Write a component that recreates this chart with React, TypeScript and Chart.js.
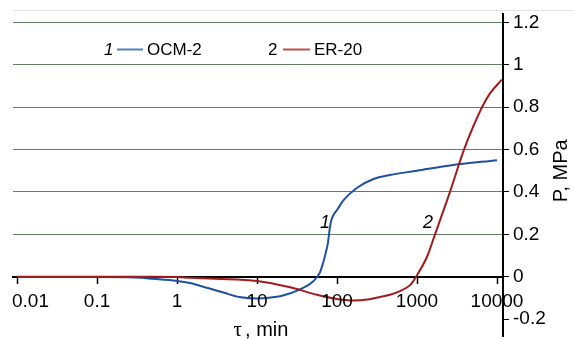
import React, { useEffect, useRef } from "react";
import { Chart, registerables } from "chart.js";

Chart.register(...registerables);

// ---- data ----
const xTickValues = [0.01, 0.1, 1, 10, 100, 1000, 10000];
const xTickLabels = ["0.01", "0.1", "1", "10", "100", "1000", "10000"];

const seriesNames = ["OCM-2", "ER-20"];
const seriesNumbers = ["1", "2"];

const ocmTime = [0.01, 0.1, 0.3, 0.5, 1, 1.45, 2.5, 3.8, 6, 10, 14, 21, 34, 50, 61, 67, 72, 77, 80, 84, 90, 100, 120, 178, 282, 460, 1000, 2600, 10000];
const ocmP = [-0.002, -0.002, -0.004, -0.01, -0.02, -0.03, -0.055, -0.075, -0.096, -0.103, -0.1, -0.089, -0.061, -0.023, 0.019, 0.065, 0.11, 0.16, 0.21, 0.26, 0.29, 0.315, 0.36, 0.42, 0.46, 0.48, 0.5, 0.525, 0.55];

const erTime = [0.01, 0.1, 0.5, 1, 1.45, 3, 10, 26, 56, 100, 158, 255, 345, 460, 613, 818, 972, 1334, 1679, 2585, 3868, 6494, 8175, 11500];
const erP = [0, 0, 0, -0.002, -0.005, -0.01, -0.02, -0.05, -0.085, -0.105, -0.112, -0.106, -0.096, -0.085, -0.068, -0.04, 0, 0.094, 0.2, 0.4, 0.6, 0.8, 0.865, 0.93];

const FONT = '"Liberation Sans", Arial, sans-serif';

const decorPlugin = {
  id: "decor",
  beforeDraw(chart: any) {
    const ctx = chart.ctx;
    ctx.save();
    ctx.strokeStyle = "#e4e4e4";
    ctx.lineWidth = 1;
    ctx.beginPath();
    ctx.moveTo(chart.chartArea.left, 10.5);
    ctx.lineTo(chart.width, 10.5);
    ctx.stroke();
    ctx.restore();
  },
  afterDraw(chart: any) {
    const ctx = chart.ctx;
    const xs = chart.scales.x;
    const ys = chart.scales.y;
    const area = chart.chartArea;
    ctx.save();
    // x tick labels
    ctx.font = `19px ${FONT}`;
    ctx.fillStyle = "#000";
    ctx.textAlign = "center";
    ctx.textBaseline = "alphabetic";
    const base = ys.getPixelForValue(0) + 30;
    xTickValues.forEach((v, i) => {
      const label = xTickLabels[i];
      const w = ctx.measureText(label).width;
      let px = xs.getPixelForValue(v);
      px = Math.max(px, area.left - 1 + w / 2);
      ctx.fillText(label, px, base);
    });

    // x title: "τ, min"
    ctx.textAlign = "left";
    ctx.font = `21px "Liberation Serif", "Times New Roman", serif`;
    const tauW = ctx.measureText("τ").width;
    ctx.font = `20px ${FONT}`;
    const restW = ctx.measureText(", min").width;
    const total = tauW + 3 + restW;
    const cx = (area.left + area.right) / 2 + 3;
    const startX = cx - total / 2;
    ctx.font = `21px "Liberation Serif", "Times New Roman", serif`;
    ctx.fillText("τ", startX, 336);
    ctx.font = `20px ${FONT}`;
    ctx.fillText(", min", startX + tauW + 3, 336);

    // y title
    ctx.save();
    ctx.translate(567, (ys.getPixelForValue(0.6) + ys.getPixelForValue(0.4)) / 2);
    ctx.rotate(-Math.PI / 2);
    ctx.textAlign = "center";
    ctx.font = `20px ${FONT}`;
    ctx.fillText("P, MPa", 0, 0);
    ctx.restore();

    // legend
    const legY = 55;
    const drawLeg = (numX: number, num: string, italic: boolean, color: string, lx1: number, lx2: number, text: string) => {
      ctx.font = `${italic ? "italic " : ""}17px ${FONT}`;
      ctx.textAlign = "left";
      ctx.fillStyle = "#000";
      ctx.fillText(num, numX, legY);
      ctx.strokeStyle = color;
      ctx.lineWidth = 2;
      ctx.beginPath();
      ctx.moveTo(lx1, 49.5);
      ctx.lineTo(lx2, 49.5);
      ctx.stroke();
      ctx.font = `17px ${FONT}`;
      ctx.fillText(text, lx2 + 4, legY);
    };
    drawLeg(104, seriesNumbers[0], true, "#4f81bd", 117, 143, seriesNames[0]);
    drawLeg(268, seriesNumbers[1], false, "#c0504d", 283, 310, seriesNames[1]);

    // curve labels
    ctx.font = `italic 18px ${FONT}`;
    ctx.fillStyle = "#000";
    ctx.textAlign = "left";
    ctx.fillText(seriesNumbers[0], 320, 228);
    ctx.fillText(seriesNumbers[1], 423, 228);
    ctx.restore();
  },
};

export default function App() {
  const ref = useRef<HTMLCanvasElement | null>(null);
  useEffect(() => {
    document.body.style.margin = "0";
    if (!ref.current) return;
    const chart = new Chart(ref.current, {
      type: "line",
      data: {
        datasets: [
          {
            label: seriesNames[1],
            data: erTime.map((t, i) => ({ x: t, y: erP[i] })),
            borderColor: "#a01c1c",
            borderWidth: 2,
            pointRadius: 0,
            fill: false,
            cubicInterpolationMode: "monotone",
          },
          {
            label: seriesNames[0],
            data: ocmTime.map((t, i) => ({ x: t, y: ocmP[i] })),
            borderColor: "#1f4fa0",
            borderWidth: 2,
            pointRadius: 0,
            fill: false,
            cubicInterpolationMode: "monotone",
          },
        ],
      },
      options: {
        animation: false,
        responsive: true,
        maintainAspectRatio: false,
        layout: { padding: { top: 14, left: 13, right: 0, bottom: 4 } },
        plugins: { legend: { display: false }, tooltip: { enabled: false } },
        scales: {
          x: {
            type: "logarithmic",
            position: { y: 0 } as any,
            min: 0.0089,
            max: 11885,
            afterBuildTicks: (s: any) => {
              s.ticks = xTickValues.map((v) => ({ value: v }));
            },
            ticks: { display: false },
            grid: { drawOnChartArea: false, drawTicks: true, tickLength: 6, tickColor: "#000", tickWidth: 1.5 },
            border: { display: true, color: "#000", width: 2 },
          },
          y: {
            position: "right",
            min: -0.28,
            max: 1.24,
            afterFit: (s: any) => {
              s.width = 71;
              s.paddingTop = 0;
              s.paddingBottom = 0;
            },
            ticks: {
              stepSize: 0.2,
              includeBounds: false,
              padding: 4,
              color: "#000",
              font: { family: "Liberation Sans", size: 19 },
              callback: (v: any) => String(Math.round(Number(v) * 10) / 10),
            },
            grid: {
              color: (c: any) => (c.tick && c.tick.value > 0.05 ? "#627e62" : "rgba(0,0,0,0)"),
              tickColor: "#000",
              tickLength: 6,
              lineWidth: 1,
            },
            border: { display: true, color: "#000", width: 2 },
          },
        },
      },
      plugins: [decorPlugin],
    } as any);
    return () => chart.destroy();
  }, []);
  return (
    <div style={{ width: 574, height: 340, position: "relative" }}>
      <canvas ref={ref} />
    </div>
  );
}
